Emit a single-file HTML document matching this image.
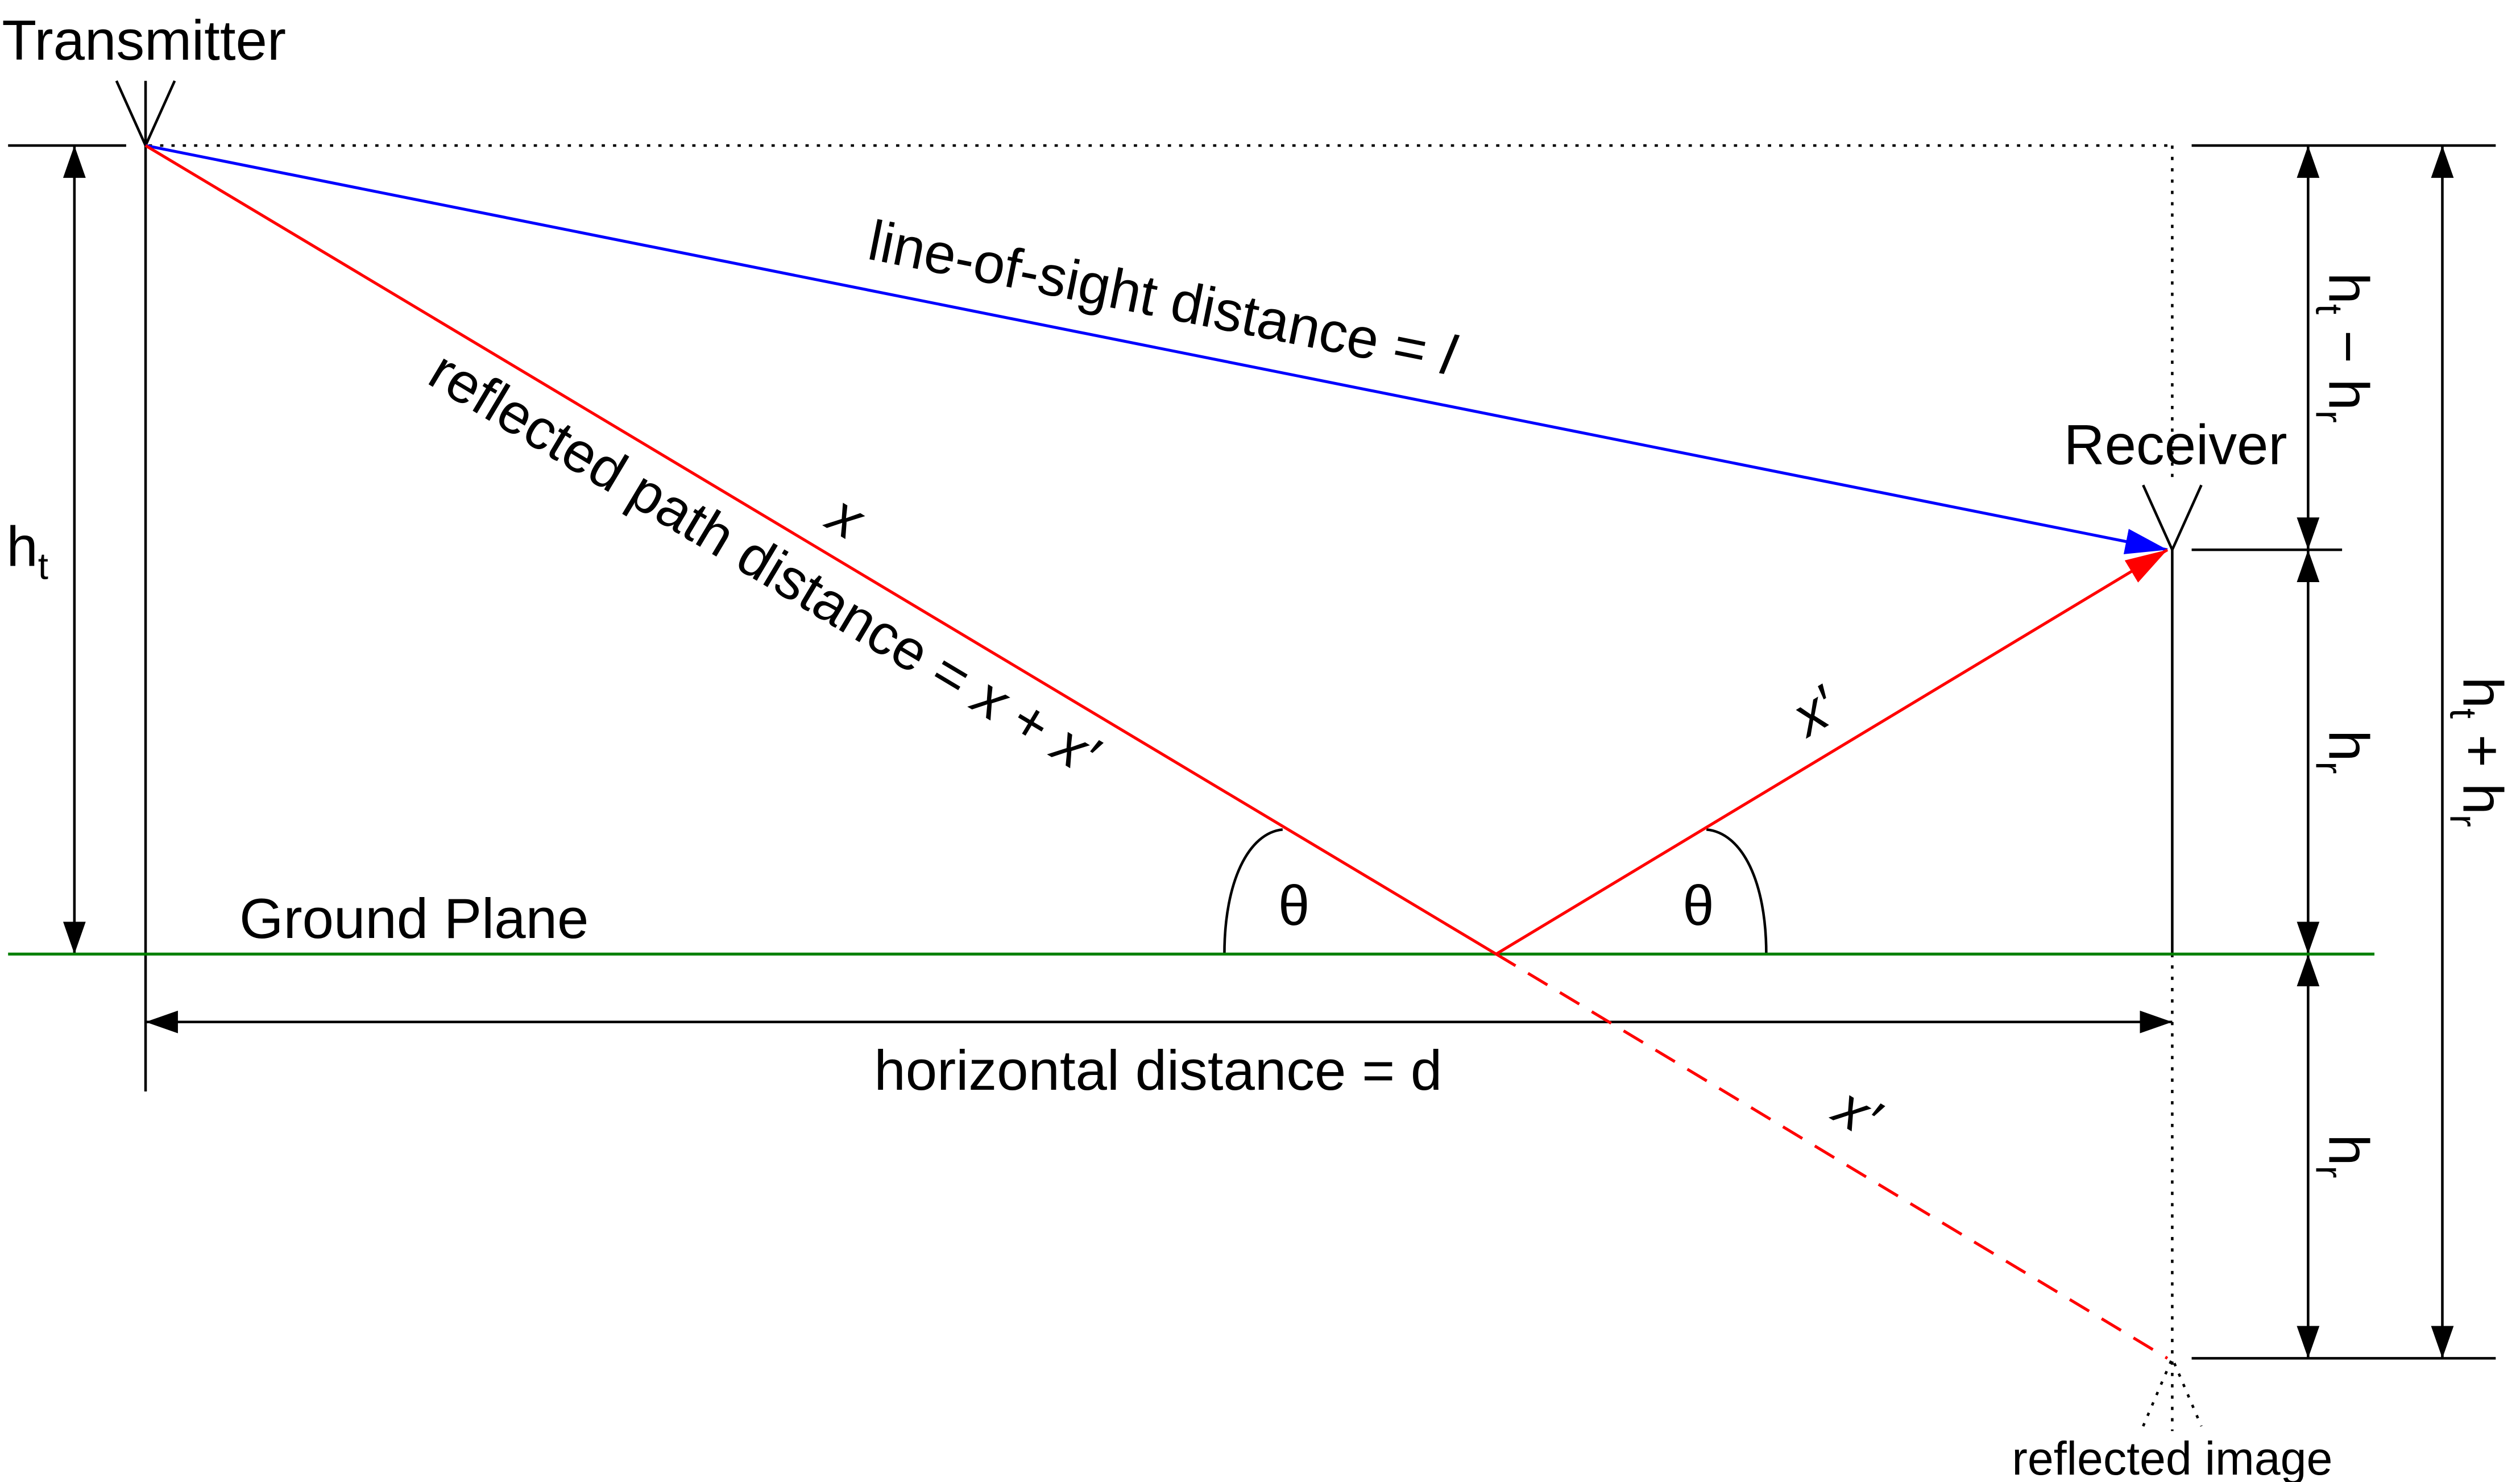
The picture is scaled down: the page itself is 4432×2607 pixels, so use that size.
<!DOCTYPE html>
<html><head><meta charset="utf-8"><style>
html,body{margin:0;padding:0;background:#fff;}
svg{display:block;}
text{font-family:"Liberation Sans",Arial,sans-serif;fill:#000;}
</style></head><body>
<svg width="4432" height="2607" viewBox="0 0 1558 916.5" preserveAspectRatio="none" xmlns="http://www.w3.org/2000/svg">
<defs>
<marker id="ab" viewBox="0 0 20 14" refX="20" refY="7" markerWidth="20" markerHeight="14" markerUnits="userSpaceOnUse" orient="auto-start-reverse"><path d="M0,0L20,7L0,14z" fill="#000"/></marker>
<marker id="abl" viewBox="0 0 26 16" refX="26" refY="8" markerWidth="26" markerHeight="16" markerUnits="userSpaceOnUse" orient="auto"><path d="M0,0L26,8L0,16z" fill="#00f"/></marker>
<marker id="ar" viewBox="0 0 26 16" refX="26" refY="8" markerWidth="26" markerHeight="16" markerUnits="userSpaceOnUse" orient="auto"><path d="M0,0L26,8L0,16z" fill="#f00"/></marker>
</defs>
<g stroke="#000" stroke-width="1.6" fill="none">
<line x1="5" y1="90" x2="78" y2="90"/>
<line x1="90" y1="50" x2="90" y2="675"/>
<path d="M72,50L90,90L108,50"/>
<line x1="1343" y1="340" x2="1343" y2="590"/>
<path d="M1325,300L1343,340L1361,300"/>
<line x1="1355" y1="90" x2="1543" y2="90"/>
<line x1="1355" y1="340" x2="1448" y2="340"/>
<line x1="1355" y1="840" x2="1543" y2="840"/>
<path d="M757,590C757,545 772,515 793,513"/>
<path d="M1092,590C1092,545 1077,515 1055,513"/>
</g>
<g stroke="#000" stroke-width="1.6" stroke-dasharray="2,5" fill="none">
<line x1="92" y1="90" x2="1343" y2="90"/>
<line x1="1343" y1="90" x2="1343" y2="300"/>
<line x1="1343" y1="590" x2="1343" y2="885"/>
<path d="M1325,882L1343,840L1361,882"/>
</g>
<g stroke="#000" stroke-width="1.6" marker-start="url(#ab)" marker-end="url(#ab)">
<line x1="46" y1="90" x2="46" y2="590"/>
<line x1="90" y1="632" x2="1343" y2="632"/>
<line x1="1427" y1="90" x2="1427" y2="340"/>
<line x1="1427" y1="340" x2="1427" y2="590"/>
<line x1="1427" y1="590" x2="1427" y2="840"/>
<line x1="1510" y1="90" x2="1510" y2="840"/>
</g>
<line x1="5" y1="590" x2="1468" y2="590" stroke="#008000" stroke-width="1.8"/>
<line x1="90" y1="90" x2="1340" y2="340" stroke="#00f" stroke-width="1.8" marker-end="url(#abl)"/>
<line x1="90" y1="90" x2="925" y2="590" stroke="#f00" stroke-width="1.8"/>
<line x1="925" y1="590" x2="1340" y2="340" stroke="#f00" stroke-width="1.8" marker-end="url(#ar)"/>
<line x1="925" y1="590" x2="1340" y2="840" stroke="#f00" stroke-width="1.8" stroke-dasharray="14,9"/>
<g font-size="35">
<text x="89" y="37" text-anchor="middle">Transmitter</text>
<text x="1345" y="287" text-anchor="middle">Receiver</text>
<text x="148" y="580">Ground Plane</text>
<text x="4" y="350">h<tspan font-size="23" dy="8">t</tspan></text>
<text x="716" y="674" text-anchor="middle">horizontal distance = d</text>
<text x="800" y="572" text-anchor="middle">θ</text>
<text x="1050" y="572" text-anchor="middle">θ</text>
<text transform="translate(716,196) rotate(11.3)" text-anchor="middle">line-of-sight distance = <tspan font-style="italic">l</tspan></text>
<text transform="translate(466,358) rotate(30.9)" text-anchor="middle">reflected path distance = <tspan font-style="italic">x</tspan> + <tspan font-style="italic">x′</tspan></text>
<text transform="translate(517,330) rotate(30.9)" text-anchor="middle" font-style="italic">x</text>
<text transform="translate(1128,450) rotate(-31)" text-anchor="middle" font-style="italic">x′</text>
<text transform="translate(1142,698) rotate(31)" text-anchor="middle" font-style="italic">x′</text>
<text transform="translate(1440,215) rotate(90)" text-anchor="middle">h<tspan font-size="23" dy="8">t</tspan><tspan dy="-8"> − h</tspan><tspan font-size="23" dy="8">r</tspan></text>
<text transform="translate(1440,465) rotate(90)" text-anchor="middle">h<tspan font-size="23" dy="8">r</tspan></text>
<text transform="translate(1440,715) rotate(90)" text-anchor="middle">h<tspan font-size="23" dy="8">r</tspan></text>
<text transform="translate(1523,465) rotate(90)" text-anchor="middle">h<tspan font-size="23" dy="8">t</tspan><tspan dy="-8"> + h</tspan><tspan font-size="23" dy="8">r</tspan></text>
</g>
<text x="1343" y="912" font-size="29" text-anchor="middle">reflected image</text>
</svg>
</body></html>
